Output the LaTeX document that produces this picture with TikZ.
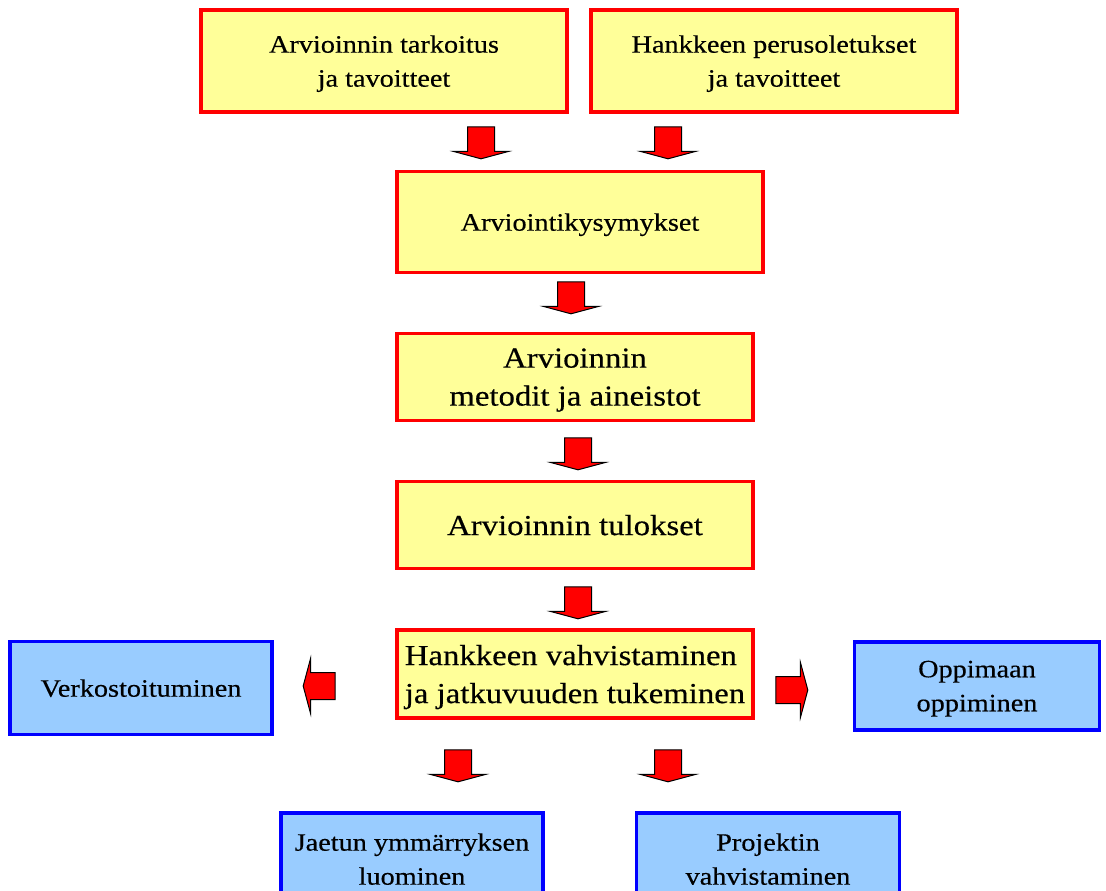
\documentclass[tikz,border=0pt]{standalone}
\usepackage{fontspec}
\setmainfont{Liberation Serif}[FakeStretch=1.13,FakeBold=0.4]
\usepackage{xcolor}
\usepackage{tikz}
\usetikzlibrary{shapes.arrows,positioning}

\definecolor{boxyellow}{HTML}{FFFF99}
\definecolor{boxblue}{HTML}{99CCFF}

\begin{document}
\begin{tikzpicture}[x=1pt,y=-1pt,
        redbox/.style={draw=red,fill=boxyellow,line width=3.5pt,align=center,inner sep=0pt,text depth=0pt},
        bluebox/.style={draw=blue,fill=boxblue,line width=3.5pt,align=center,inner sep=0pt,text depth=0pt},
        small/.style={font=\fontsize{25}{34}\selectfont},
        large/.style={font=\fontsize{29}{38}\selectfont},
        blockarrow/.style={single arrow,draw=black,fill=red,line width=1pt,inner sep=13pt,
            minimum height=32pt,single arrow head extend=14pt,single arrow tip angle=150},
        down/.style={blockarrow,shape border rotate=270}]
    \useasboundingbox (0,0) rectangle (1106,891);
    \clip (0,0) rectangle (1106,891);
    \fill[white] (0,0) rectangle (1106,891);
    % top row
    \node[redbox,small,minimum width=366pt,minimum height=102pt] (tarkoitus) at (384,61) {Arvioinnin tarkoitus\\ja tavoitteet};
    \node[redbox,small,minimum width=366pt,minimum height=102pt] (oletukset) at (774,61) {Hankkeen perusoletukset\\ja tavoitteet};
    \node[down] (a1) at (481,141) {};
    \node[down] (a2) at (668,141) {};
    % main column
    \node[redbox,small,minimum width=366pt,minimum height=101pt] (kysymykset) at (580,222) {Arviointikysymykset};
    \node[down] (a3) at (571,296) {};
    \node[redbox,large,minimum width=356pt,minimum height=87pt] (metodit) at (575,377) {Arvioinnin\\metodit ja aineistot};
    \node[down] (a4) at (578,452) {};
    \node[redbox,large,minimum width=356pt,minimum height=87pt] (tulokset) at (575,525) {Arvioinnin tulokset};
    \node[down] (a5) at (578,601) {};
    \node[redbox,large,minimum width=356pt,minimum height=88pt,align=left] (vahvistaminen) at (575,674) {Hankkeen vahvistaminen\\ja jatkuvuuden tukeminen};
    % sides
    \node[blockarrow,shape border rotate=180] (a6) at (321,686) {};
    \node[blockarrow] (a7) at (790,690) {};
    \node[bluebox,small,minimum width=262pt,minimum height=93pt] (verkosto) at (141,688) {Verkostoituminen};
    \node[bluebox,small,minimum width=245pt,minimum height=88pt] (oppimaan) at (977,686) {Oppimaan\\oppiminen};
    % bottom row
    \node[down] (a8) at (458,764) {};
    \node[down] (a9) at (668,764) {};
    \node[bluebox,small,minimum width=262pt,minimum height=92pt] (jaetun) at (412,859) {Jaetun ymmärryksen\\luominen};
    \node[bluebox,small,minimum width=263pt,minimum height=92pt] (projektin) at (768,859) {Projektin\\vahvistaminen};
\end{tikzpicture}
\end{document}
